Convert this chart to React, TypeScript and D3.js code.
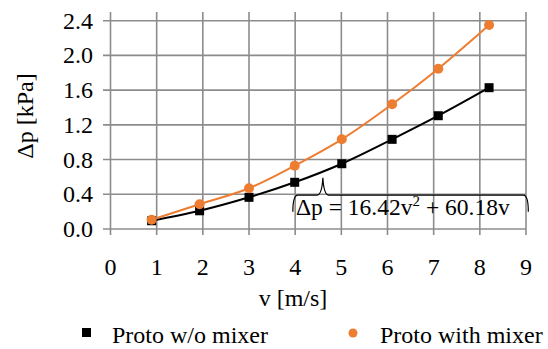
import React from 'react';
import * as d3 from 'd3';

const velocity = [0.89, 1.93, 3.0, 3.99, 5.01, 6.1, 7.1, 8.2];
const withoutMixer = [0.095, 0.21, 0.365, 0.538, 0.752, 1.033, 1.305, 1.628];
const withMixer = [0.107, 0.285, 0.47, 0.73, 1.033, 1.437, 1.847, 2.35];
const xTicks = [0, 1, 2, 3, 4, 5, 6, 7, 8, 9];
const yTicks = [0, 0.4, 0.8, 1.2, 1.6, 2.0, 2.4];
const seriesNames = ['Proto w/o mixer', 'Proto with mixer'];

const W = 548;
const H = 349;
const FONT = '"Liberation Serif", "Times New Roman", Times, serif';
const ORANGE = '#ED7D31';
const GRID = '#8c8c8c';

const App = () => {
  const x = d3.scaleLinear().domain([0, 9]).range([110.5, 526]);
  const y = d3.scaleLinear().domain([0, 2.5]).range([229, 12]);

  const line = d3.line<number>()
    .x((_, i) => x(velocity[i]))
    .y(d => y(d))
    .curve(d3.curveCatmullRom.alpha(0.5));

  // brace annotation anchored in data units
  const tipX = x(4.6), tipY = y(0.59);
  const barY = y(0.39);
  const leftX = x(3.95), rightX = x(9.05);
  const endY = y(0.2);
  const brace = [
    `M${leftX},${endY}`,
    `Q${leftX},${barY} ${leftX + 5},${barY}`,
    `L${tipX - 6},${barY}`,
    `Q${tipX - 1},${barY} ${tipX},${tipY}`,
    `Q${tipX + 1},${barY} ${tipX + 6},${barY}`,
    `L${rightX - 5},${barY}`,
    `Q${rightX},${barY} ${rightX},${endY}`,
  ].join(' ');

  const mid = { textAnchor: 'middle' } as React.CSSProperties;

  return (
    <svg width={W} height={H}
      style={{ position: 'absolute', left: 0, top: 0, background: '#fff', fontFamily: FONT }}>
      {/* grid */}
      {yTicks.map(t => (
        <line key={'h' + t} x1={103} x2={x(9)} y1={y(t)} y2={y(t)} stroke={GRID} strokeWidth={1.6} />
      ))}
      {xTicks.map(t => (
        <line key={'v' + t} x1={x(t)} x2={x(t)} y1={y(2.5)} y2={y(0) + 6} stroke={GRID} strokeWidth={1.6} />
      ))}
      {/* tick labels */}
      {yTicks.map(t => (
        <text key={'yl' + t} x={93} y={y(t) + 8} textAnchor="end" fontSize={24} fill="#000">
          {d3.format('.1f')(t)}
        </text>
      ))}
      {xTicks.map(t => (
        <text key={'xl' + t} x={x(t)} y={275} style={mid} fontSize={24} fill="#000">
          {t}
        </text>
      ))}
      <text x={293} y={306} style={mid} fontSize={24}>v [m/s]</text>
      <text transform="rotate(-90)" x={-116} y={33} style={mid} fontSize={24}>Δp [kPa]</text>

      {/* series */}
      <path d={line(withoutMixer) ?? ''} fill="none" stroke="#000" strokeWidth={2} />
      <path d={line(withMixer) ?? ''} fill="none" stroke={ORANGE} strokeWidth={2} />
      {withoutMixer.map((v, i) => (
        <rect key={'b' + i} x={x(velocity[i]) - 4.5} y={y(v) - 4.5} width={9} height={9} fill="#000" />
      ))}
      {withMixer.map((v, i) => (
        <circle key={'o' + i} cx={x(velocity[i])} cy={y(v)} r={5} fill={ORANGE} />
      ))}

      {/* fit annotation */}
      <path d={brace} fill="none" stroke="#000" strokeWidth={1.2} />
      <text x={296} y={215} fontSize={23.5}>
        Δp = 16.42v<tspan fontSize={15} dy={-9}>2</tspan><tspan dy={9}> + 60.18v</tspan>
      </text>

      {/* legend */}
      <rect x={82} y={328} width={9} height={9} fill="#000" />
      <text x={112} y={343} fontSize={24}>{seriesNames[0]}</text>
      <circle cx={353} cy={333} r={4.5} fill={ORANGE} />
      <text x={380} y={343} fontSize={24}>{seriesNames[1]}</text>
    </svg>
  );
};

export default App;
